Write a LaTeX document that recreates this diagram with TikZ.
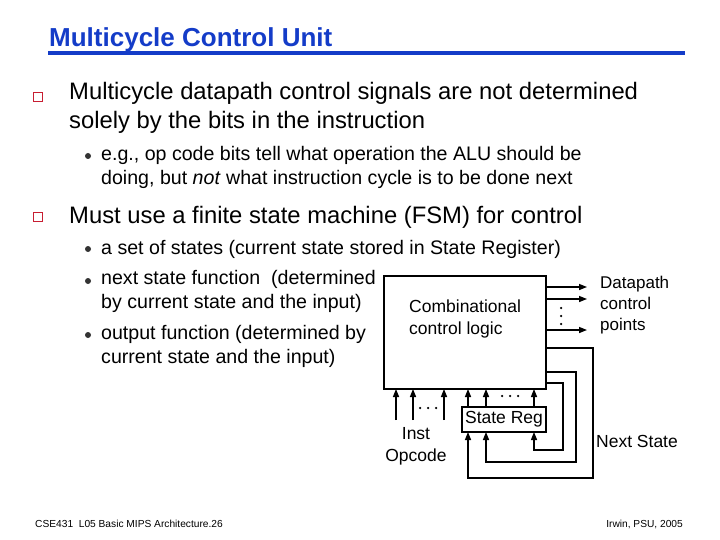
\documentclass[tikz,border=0pt]{standalone}
\usepackage{fontspec}
\setmainfont{Liberation Sans}
\usetikzlibrary{arrows.meta}
\definecolor{ttl}{RGB}{20,60,200}
\definecolor{bul}{RGB}{200,30,50}
\begin{document}
\begin{tikzpicture}[x=1pt,y=-1pt,
  arr/.style={-{Triangle[length=8pt,width=6pt]},line width=1.4pt},
  txt/.style={inner sep=0pt,anchor=west,align=left},
  big/.style={txt,font=\fontsize{23.8}{29}\selectfont},
  mid/.style={txt,font=\fontsize{19.6}{24.5}\selectfont},
  lab/.style={inner sep=0pt,font=\fontsize{17.5}{22}\selectfont,align=center},
  pt/.style={circle,fill=black,minimum size=2.5pt,inner sep=0pt}]
\useasboundingbox (0,0) rectangle (720,540);
\node[txt,font=\bfseries\fontsize{26}{30}\selectfont,text=ttl] (title) at (49,40) {Multicycle Control Unit};
\draw[ttl,line width=3.5pt] (48,53) -- (685,53);
\tikzset{sq/.style={draw=bul,fill=white,line width=0.9pt,minimum size=9pt,inner sep=0pt},
  dot/.style={circle,fill=black!80,minimum size=6pt,inner sep=0pt}}
\node[sq] (s1) at (38,97) {};
\node[big,anchor=north west] (b1) at (69,82) {Multicycle datapath control signals are not determined\\solely by the bits in the instruction};
\node[dot] (d1) at (88,156) {};
\node[mid,anchor=north west] (t1) at (101,146) {e.g., op code bits tell what operation the ALU should be\\doing, but \emph{not} what instruction cycle is to be done next};
\node[sq] (s2) at (38,217) {};
\node[big] (b2) at (69,217) {Must use a finite state machine (FSM) for control};
\node[dot] (d2) at (88,249) {};
\node[mid] (t2) at (101,249) {a set of states (current state stored in State Register)};
\node[dot] (d3) at (88,281) {};
\node[mid,anchor=north west] (t3) at (101,270) {next state function\ \ (determined\\by current state and the input)};
\node[dot] (d4) at (88,335) {};
\node[mid,anchor=north west] (t4) at (101,325) {output function (determined by\\current state and the input)};
% diagram
\draw[line width=1.4pt,fill=white] (384,276) rectangle (546,389);
\node[lab,align=left,anchor=west] (ccl) at (409,319) {Combinational\\control logic};
\node[draw,line width=1.4pt,minimum width=84pt,minimum height=25pt,inner sep=0pt,lab] (sr) at (504,419.5) {State Reg};
\coordinate (o1s) at (546,287); \coordinate (o1e) at (587,287);
\coordinate (o2s) at (546,299); \coordinate (o2e) at (587,299);
\coordinate (o3s) at (546,330); \coordinate (o3e) at (587,330);
\draw[arr] (o1s) -- (o1e);
\draw[arr] (o2s) -- (o2e);
\draw[arr] (o3s) -- (o3e);
\foreach \y in {308,316,324} \node[pt] at (561,\y) {};
\node[lab,align=left,anchor=north west,font=\fontsize{17}{21}\selectfont] (dp) at (600,276) {Datapath\\control\\points};
% feedback
\coordinate (f1) at (546,348); \coordinate (f2) at (546,372); \coordinate (f3) at (546,383);
\draw[arr] (f1) -- (593,348) -- (593,478) -- (468,478) -- (468,432);
\draw[arr] (f2) -- (576,372) -- (576,462) -- (486,462) -- (486,432);
\draw[arr] (f3) -- (563,383) -- (563,450) -- (534,450) -- (534,432);
\draw[arr] (468,407) -- (468,389);
\draw[arr] (486,407) -- (486,389);
\draw[arr] (534,407) -- (534,389);
\foreach \x in {502,510,518} \node[pt] at (\x,396) {};
\draw[arr] (396,420) -- (396,389);
\draw[arr] (413,420) -- (413,389);
\draw[arr] (444,420) -- (444,389);
\foreach \x in {420,428,436} \node[pt] at (\x,408) {};
\node[lab] (inst) at (416,446) {Inst\\Opcode};
\node[lab] (ns) at (637,441) {Next State};
\node[txt,font=\fontsize{10.2}{12}\selectfont] (foot) at (35,524) {CSE431\ \ L05 Basic MIPS Architecture.26};
\node[txt,anchor=east,font=\fontsize{10.2}{12}\selectfont] (foot2) at (683,524) {Irwin, PSU, 2005};
\end{tikzpicture}
\end{document}
